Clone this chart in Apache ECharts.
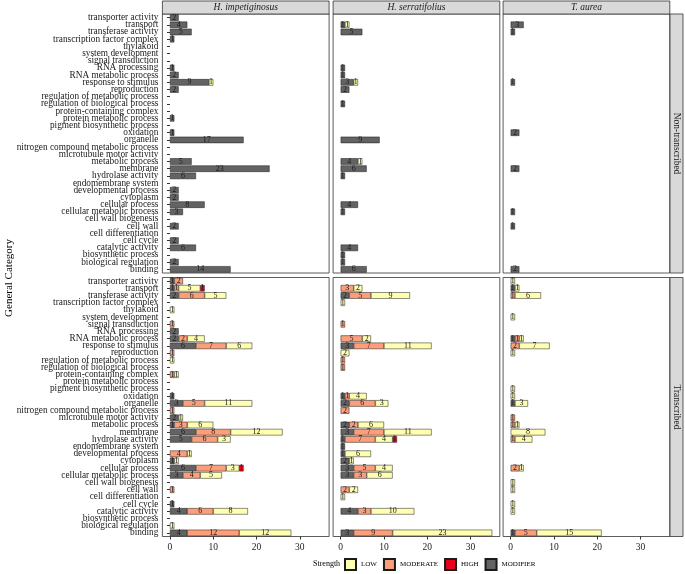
<!DOCTYPE html>
<html><head><meta charset="utf-8">
<script src="https://cdn.jsdelivr.net/npm/echarts@6/dist/echarts.min.js"></script>
<style>html,body{margin:0;padding:0;background:#fff}#c{width:685px;height:574px}</style>
</head><body><div id="c"></div>
<script>
const categories = ["transporter activity","transport","transferase activity","transcription factor complex","thylakoid","system development","signal transduction","RNA processing","RNA metabolic process","response to stimulus","reproduction","regulation of metabolic process","regulation of biological process","protein-containing complex","protein metabolic process","pigment biosynthetic process","oxidation","organelle","nitrogen compound metabolic process","microtubule motor activity","metabolic process","membrane","hydrolase activity","endomembrane system","developmental process","cytoplasm","cellular process","cellular metabolic process","cell wall biogenesis","cell wall","cell differentiation","cell cycle","catalytic activity","biosynthetic process","biological regulation","binding"];
const species = ["H. impetiginosus","H. serratifolius","T. aurea"];
const groups = ["Non-transcribed","Transcribed"];
const strengths = ["MODIFIER","MODERATE","LOW","HIGH"]; // stacking order from zero
const legendOrder = ["LOW","MODERATE","HIGH","MODIFIER"];
const xTicks = [0,10,20,30];
// rows: [category, MODIFIER, MODERATE, LOW, HIGH]
const impNon = [
 ["transporter activity",2,0,0,0],["transport",4,0,0,0],["transferase activity",5,0,0,0],["transcription factor complex",1,0,0,0],
 ["RNA processing",1,0,0,0],["RNA metabolic process",2,0,0,0],["response to stimulus",9,0,1,0],["reproduction",2,0,0,0],
 ["protein metabolic process",1,0,0,0],["oxidation",1,0,0,0],["organelle",17,0,0,0],["metabolic process",5,0,0,0],
 ["membrane",23,0,0,0],["hydrolase activity",6,0,0,0],["developmental process",2,0,0,0],["cytoplasm",2,0,0,0],
 ["cellular process",8,0,0,0],["cellular metabolic process",3,0,0,0],["cell wall",2,0,0,0],["cell cycle",2,0,0,0],
 ["catalytic activity",6,0,0,0],["biological regulation",2,0,0,0],["binding",14,0,0,0]
];
const impTr = [
 ["transporter activity",1,2,0,0],["transport",1,1,5,1],["transferase activity",2,6,5,0],["thylakoid",0,0,1,0],
 ["signal transduction",0,1,0,0],["RNA processing",2,0,0,0],["RNA metabolic process",2,2,4,0],["response to stimulus",6,7,6,0],
 ["reproduction",0,1,0,0],["regulation of metabolic process",0,0,1,0],["protein-containing complex",0,1,1,0],["oxidation",1,0,0,0],
 ["organelle",3,5,11,0],["nitrogen compound metabolic process",0,1,0,0],["microtubule motor activity",2,0,1,0],["metabolic process",1,3,6,0],
 ["membrane",6,8,12,0],["hydrolase activity",5,6,3,0],["developmental process",0,4,1,0],["cytoplasm",1,0,1,0],
 ["cellular process",6,7,3,1],["cellular metabolic process",3,4,5,0],["cell wall",0,1,0,0],["cell cycle",1,0,0,0],
 ["catalytic activity",4,6,8,0],["biological regulation",0,0,1,0],["binding",4,12,12,0]
];
const serNon = [
 ["transport",1,0,1,0],["transferase activity",5,0,0,0],["RNA processing",1,0,0,0],["RNA metabolic process",1,0,0,0],
 ["response to stimulus",3,0,1,0],["reproduction",2,0,0,0],["regulation of biological process",1,0,0,0],["organelle",9,0,0,0],
 ["metabolic process",4,0,1,0],["membrane",6,0,0,0],["hydrolase activity",1,0,0,0],["cellular process",4,0,0,0],
 ["cellular metabolic process",1,0,0,0],["catalytic activity",4,0,0,0],["biosynthetic process",1,0,0,0],["biological regulation",1,0,0,0],
 ["binding",6,0,0,0]
];
const serTr = [
 ["transport",0,3,2,0],["transferase activity",2,5,9,0],["transcription factor complex",0,0,1,0],["signal transduction",0,1,0,0],
 ["RNA metabolic process",0,5,2,0],["response to stimulus",3,7,11,0],["reproduction",0,0,2,0],["regulation of metabolic process",0,1,0,0],
 ["regulation of biological process",0,1,0,0],["oxidation",1,1,4,0],["organelle",2,6,3,0],["nitrogen compound metabolic process",0,2,0,0],
 ["metabolic process",2,2,6,0],["membrane",3,7,11,0],["hydrolase activity",1,7,4,1],["endomembrane system",1,0,0,0],
 ["developmental process",1,0,6,0],["cytoplasm",2,0,1,0],["cellular process",3,5,4,0],["cellular metabolic process",3,3,6,0],
 ["cell wall",0,2,2,0],["cell differentiation",0,0,1,0],["catalytic activity",4,3,10,0],["binding",3,9,23,0]
];
const aurNon = [
 ["transport",3,0,0,0],["transferase activity",1,0,0,0],["response to stimulus",1,0,0,0],["oxidation",2,0,0,0],
 ["membrane",2,0,0,0],["cellular metabolic process",1,0,0,0],["cell wall",1,0,0,0],["binding",2,0,0,0]
];
const aurTr = [
 ["transporter activity",0,0,1,0],["transport",1,0,1,0],["transferase activity",0,1,6,0],["system development",0,0,1,0],
 ["RNA metabolic process",1,1,1,0],["response to stimulus",0,2,7,0],["reproduction",0,0,1,0],["pigment biosynthetic process",0,0,1,0],
 ["oxidation",0,0,1,0],["organelle",1,0,3,0],["microtubule motor activity",0,1,0,0],["metabolic process",0,1,1,0],
 ["membrane",0,0,8,0],["hydrolase activity",0,1,4,0],["cellular process",0,2,1,0],["cell wall biogenesis",0,0,1,0],
 ["cell wall",0,0,1,0],["cell cycle",0,0,1,0],["catalytic activity",0,0,1,0],["binding",1,5,15,0]
];
const panels = [impNon, serNon, aurNon, impTr, serTr, aurTr];

const colors = {LOW:"#FFFFB2", MODERATE:"#FC9E7A", HIGH:"#E8001C", MODIFIER:"#636363"};
const FONT = "Liberation Serif";
const colLeft = [162.4, 333.1, 503.1], panelW = 166.7;
const rowTop = [14, 277.5], panelH = 259;

const grid = [], xAxis = [], yAxis = [], series = [], graphic = [];
panels.forEach((rows, p) => {
  const r = Math.floor(p / 3), c = p % 3;
  grid.push({left: colLeft[c], top: rowTop[r], width: panelW, height: panelH, show: true,
    borderColor: "#333", borderWidth: 0.8, backgroundColor: "#fff", containLabel: false});
  xAxis.push({type: "value", gridIndex: p, min: -1.75, max: 36.75,
    axisLine: {show: false}, splitLine: {show: false},
    axisTick: {show: r === 1, length: 3, lineStyle: {color: "#333"}, customValues: xTicks},
    axisLabel: {show: r === 1, customValues: xTicks, fontFamily: FONT, fontSize: 9.5, color: "#222", margin: 6}});
  yAxis.push({type: "category", gridIndex: p, data: categories, inverse: true,
    axisLine: {show: false}, splitLine: {show: false},
    axisTick: {show: c === 0, length: 3, alignWithLabel: true, lineStyle: {color: "#333"}},
    axisLabel: {show: c === 0, fontFamily: FONT, fontSize: 9.3, color: "#1a1a1a", margin: 4, interval: 0}});
  const lookup = {};
  rows.forEach(rw => { lookup[rw[0]] = rw; });
  strengths.forEach((s, si) => {
    series.push({name: s, type: "bar", stack: "p" + p, xAxisIndex: p, yAxisIndex: p,
      barCategoryGap: "10%",
      data: categories.map(cat => { const v = lookup[cat] ? lookup[cat][si + 1] : 0; return v > 0 ? v : null; }),
      itemStyle: {color: colors[s], borderColor: "#1a1a1a", borderWidth: 0.5},
      label: {show: true, position: "inside", formatter: "{c}", fontFamily: FONT, fontSize: 8, color: "#1a1a1a"},
      emphasis: {disabled: true}, animation: false});
  });
});
species.forEach((sp, c) => {
  graphic.push({type: "rect", shape: {x: colLeft[c], y: 1, width: panelW, height: 13},
    style: {fill: "#d9d9d9", stroke: "#333", lineWidth: 0.8}});
  graphic.push({type: "text", x: colLeft[c] + panelW / 2, y: 7.5,
    style: {text: sp, font: "italic 9.5px " + FONT, fill: "#1a1a1a", textAlign: "center", textVerticalAlign: "middle"}});
});
groups.forEach((g, r) => {
  graphic.push({type: "rect", shape: {x: 670, y: rowTop[r], width: 13, height: panelH},
    style: {fill: "#d9d9d9", stroke: "#333", lineWidth: 0.8}});
  graphic.push({type: "text", x: 676.5, y: rowTop[r] + panelH / 2, rotation: -Math.PI / 2,
    style: {text: g, font: "9.5px " + FONT, fill: "#1a1a1a", textAlign: "center", textVerticalAlign: "middle"}});
});
graphic.push({type: "text", x: 9, y: 278, rotation: Math.PI / 2,
  style: {text: "General Category", font: "11px " + FONT, fill: "#000", textAlign: "center", textVerticalAlign: "middle"}});
graphic.push({type: "text", x: 313, y: 564,
  style: {text: "Strength", font: "8px " + FONT, fill: "#000", textAlign: "left", textVerticalAlign: "middle"}});

const chart = echarts.init(document.getElementById("c"), null, {renderer: "canvas"});
chart.setOption({
  animation: false,
  grid, xAxis, yAxis, series, graphic,
  legend: {data: legendOrder, left: 344, top: 558, padding: 0, itemWidth: 11, itemHeight: 11, itemGap: 6, icon: "rect",
    selectedMode: false, textStyle: {fontFamily: FONT, fontSize: 7, color: "#000"}}
});
</script></body></html>
